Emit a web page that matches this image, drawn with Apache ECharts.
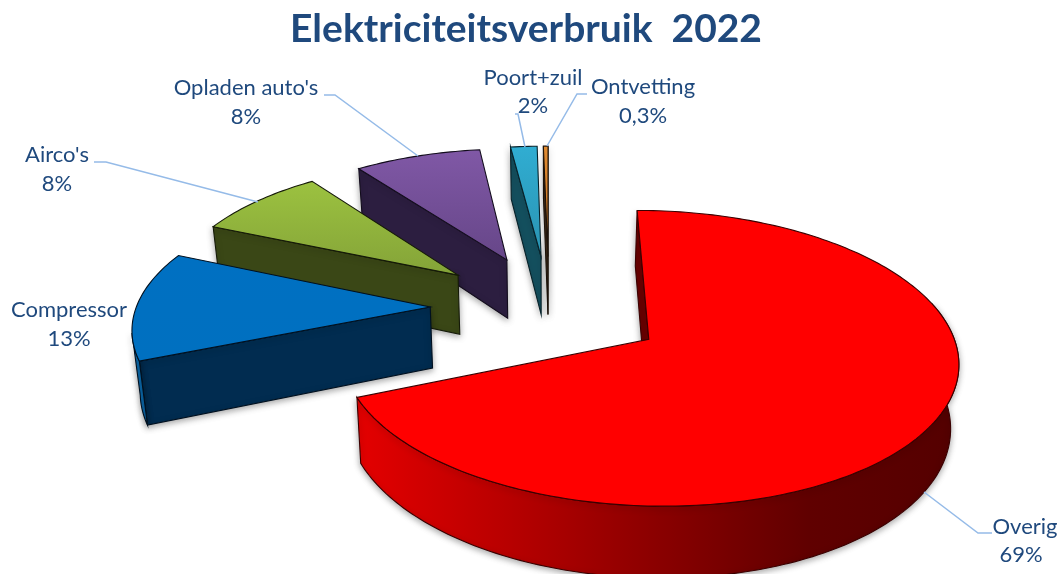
<!DOCTYPE html>
<html><head><meta charset="utf-8">
<style>html,body{margin:0;padding:0;background:#fff}#c{width:1062px;height:574px}</style>
<script src="https://cdn.jsdelivr.net/npm/echarts@6/dist/echarts.min.js"></script>
</head><body><div id="c"></div>
<script>
// ---- data ----
const categories = ['Overig', 'Compressor', "Airco's", "Opladen auto's", 'Poort+zuil', 'Ontvetting'];
const shares = [68.8, 12.7, 8.4, 8.1, 1.7, 0.3];
const chartTitle = 'Elektriciteitsverbruik  2022';

// ---- style ----
const explode = [0.405, 0.39, 0.39, 0.39, 0.39, 0.39];
const radiusScale = [1, 0.99, 0.985, 0.985, 0.985, 0.985];
const nudgeX = [0, 0, 0, 2, 3, 3];
const topColors = [['#ff0000','#ff0000'],['#0070c2','#0070c0'],['#9cc240','#84a338'],['#8058a6','#664688'],['#30add2','#2a94b2'],['#e08a30','#c87424']];
const wallColors = ['#6a0000','#012c50','#3a4716','#2c1e40','#14505f','#3d2a1a'];
const rimColors = [['#e40000','#b80000','#8a0000','#600000','#540000'],['#0a6cb0','#0a5f9c'],['#4c5e1c','#4c5e1c'],['#3a2a54','#3a2a54'],['#14505f','#14505f'],['#3d2a1a','#3d2a1a']];
const edgeColors = ['#3a0000','#00101f','#151a08','#120c1c','#08222a','#1c120a'];
const labelPos = [[1025,527,1021,555],[69,310,69,339],[57,155,57,184],[246,88,246,117],[533,78,533,106],[643,87,643,116]];
const leaderPts = [
  [[992,533],[978,533],[924,492]],
  null,
  [[94,162],[106,162],[258,202]],
  [[324,95],[335,95],[418,156]],
  [[515,114],[518,114],[525,147]],
  [[587,94],[577,94],[547,146]]
];
const LABEL_COLOR = '#1f497d', LEADER_COLOR = '#95bbe8';
const FONT = '22px Lato, "Open Sans", sans-serif';
const FRONT_WALL_FROM = Math.PI * 0.42, FRONT_WALL_TO = Math.PI * 1.44;

// ---- perspective projection of the pie plane ----
const CX = 546, CY = 307.5, RX = 297, RY = 137.4, K = 0.1243, H = 61, BOTTOM_SHRINK = 0.98;
function project(x, y, bottom, dx) {
  const w = 1 - K * y;
  let sx = CX + RX * x / w, sy = CY + RY * y / w;
  if (bottom) { sx = CX + (sx - CX) * BOTTOM_SHRINK; sy += H / w; }
  return [sx + dx, sy];
}
function signedArea(p) {
  let s = 0;
  for (let i = 0; i < p.length; i++) { const a = p[i], b = p[(i + 1) % p.length]; s += a[0] * b[1] - b[0] * a[1]; }
  return s;
}
function grad(cols, horizontal) {
  const stops = cols.map((c, i) => ({ offset: i / (cols.length - 1), color: c }));
  return new echarts.graphic.LinearGradient(0, 0, horizontal ? 1 : 0, horizontal ? 0 : 1, stops);
}

function renderSlice(params, api) {
  const value = api.value(0), startShare = api.value(1), idx = api.value(2);
  const total = shares.reduce((a, b) => a + b, 0);
  const a0 = startShare / total * 2 * Math.PI;
  const a1 = (startShare + value) / total * 2 * Math.PI;
  const mid = (a0 + a1) / 2;
  const ox = explode[idx] * Math.sin(mid), oy = -explode[idx] * Math.cos(mid);
  const rs = radiusScale[idx], dx = nudgeX[idx];
  const rim = t => [ox + rs * Math.sin(t), oy - rs * Math.cos(t)];
  const steps = Math.max(4, Math.ceil((a1 - a0) / 0.02));
  const rimTop = [];
  for (let i = 0; i <= steps; i++) { const q = rim(a0 + (a1 - a0) * i / steps); rimTop.push(project(q[0], q[1], false, dx)); }
  const apexT = project(ox, oy, false, dx), apexB = project(ox, oy, true, dx);
  const shadow = { shadowBlur: 6, shadowColor: 'rgba(0,0,0,0.35)', shadowOffsetY: 2 };
  const edge = { stroke: edgeColors[idx], lineWidth: 1.1 };
  const children = [];
  function cutWall(t, isStart) {
    const q = rim(t);
    const pts = [apexT, project(q[0], q[1], false, dx), project(q[0], q[1], true, dx), apexB];
    const area = signedArea(pts);
    if ((isStart && area < 0) || (!isStart && area > 0)) {
      children.push({ type: 'polygon', shape: { points: pts }, style: Object.assign({ fill: wallColors[idx] }, edge, shadow) });
    }
  }
  cutWall(a1, false);
  cutWall(a0, true);
  // visible part of the outer wall (front half of the circle)
  const fa = Math.max(a0, FRONT_WALL_FROM), fb = Math.min(a1, FRONT_WALL_TO);
  if (fb > fa) {
    const top = [], bot = [];
    const n = Math.ceil((fb - fa) / 0.02);
    for (let i = 0; i <= n; i++) {
      const q = rim(fa + (fb - fa) * i / n);
      top.push(project(q[0], q[1], false, dx)); bot.push(project(q[0], q[1], true, dx));
    }
    children.push({ type: 'polygon', shape: { points: top.concat(bot.reverse()) },
      style: Object.assign({ fill: grad(rimColors[idx], true) }, edge, shadow) });
  }
  // top surface
  children.push({ type: 'polygon', shape: { points: [apexT].concat(rimTop) },
    style: Object.assign({ fill: grad(topColors[idx], false) }, edge) });
  return { type: 'group', children };
}

function renderLabel(params, api) {
  const idx = api.value(0);
  const p = labelPos[idx], children = [];
  if (leaderPts[idx]) children.push({ type: 'polyline', shape: { points: leaderPts[idx] }, style: { fill: 'none', stroke: LEADER_COLOR, lineWidth: 1.5 } });
  const v = shares[idx];
  const pct = v < 1 ? String(v).replace('.', ',') + '%' : Math.round(v) + '%';
  children.push({ type: 'text', style: { text: categories[idx], x: p[0], y: p[1], fill: LABEL_COLOR, font: FONT, textAlign: 'center', textVerticalAlign: 'middle' } });
  children.push({ type: 'text', style: { text: pct, x: p[2], y: p[3], fill: LABEL_COLOR, font: FONT, textAlign: 'center', textVerticalAlign: 'middle' } });
  return { type: 'group', children };
}

let cum = 0;
const rows = shares.map((v, i) => { const r = [v, cum, i]; cum += v; return r; });
const chart = echarts.init(document.getElementById('c'), null, { renderer: 'canvas' });
chart.setOption({
  animation: false,
  backgroundColor: '#fff',
  title: { text: chartTitle, left: 526, top: 5, textAlign: 'center',
    textStyle: { color: '#1f497d', fontSize: 39, fontWeight: 'bold', fontFamily: 'Lato, "Open Sans", sans-serif' } },
  series: [
    { type: 'custom', coordinateSystem: 'none', silent: true, renderItem: renderSlice, data: rows.slice().reverse(), encode: {} },
    { type: 'custom', coordinateSystem: 'none', silent: true, renderItem: renderLabel, data: categories.map((c, i) => [i]), z: 5 }
  ]
});
chart.setOption({ title: { left: 521 } });
</script></body></html>
